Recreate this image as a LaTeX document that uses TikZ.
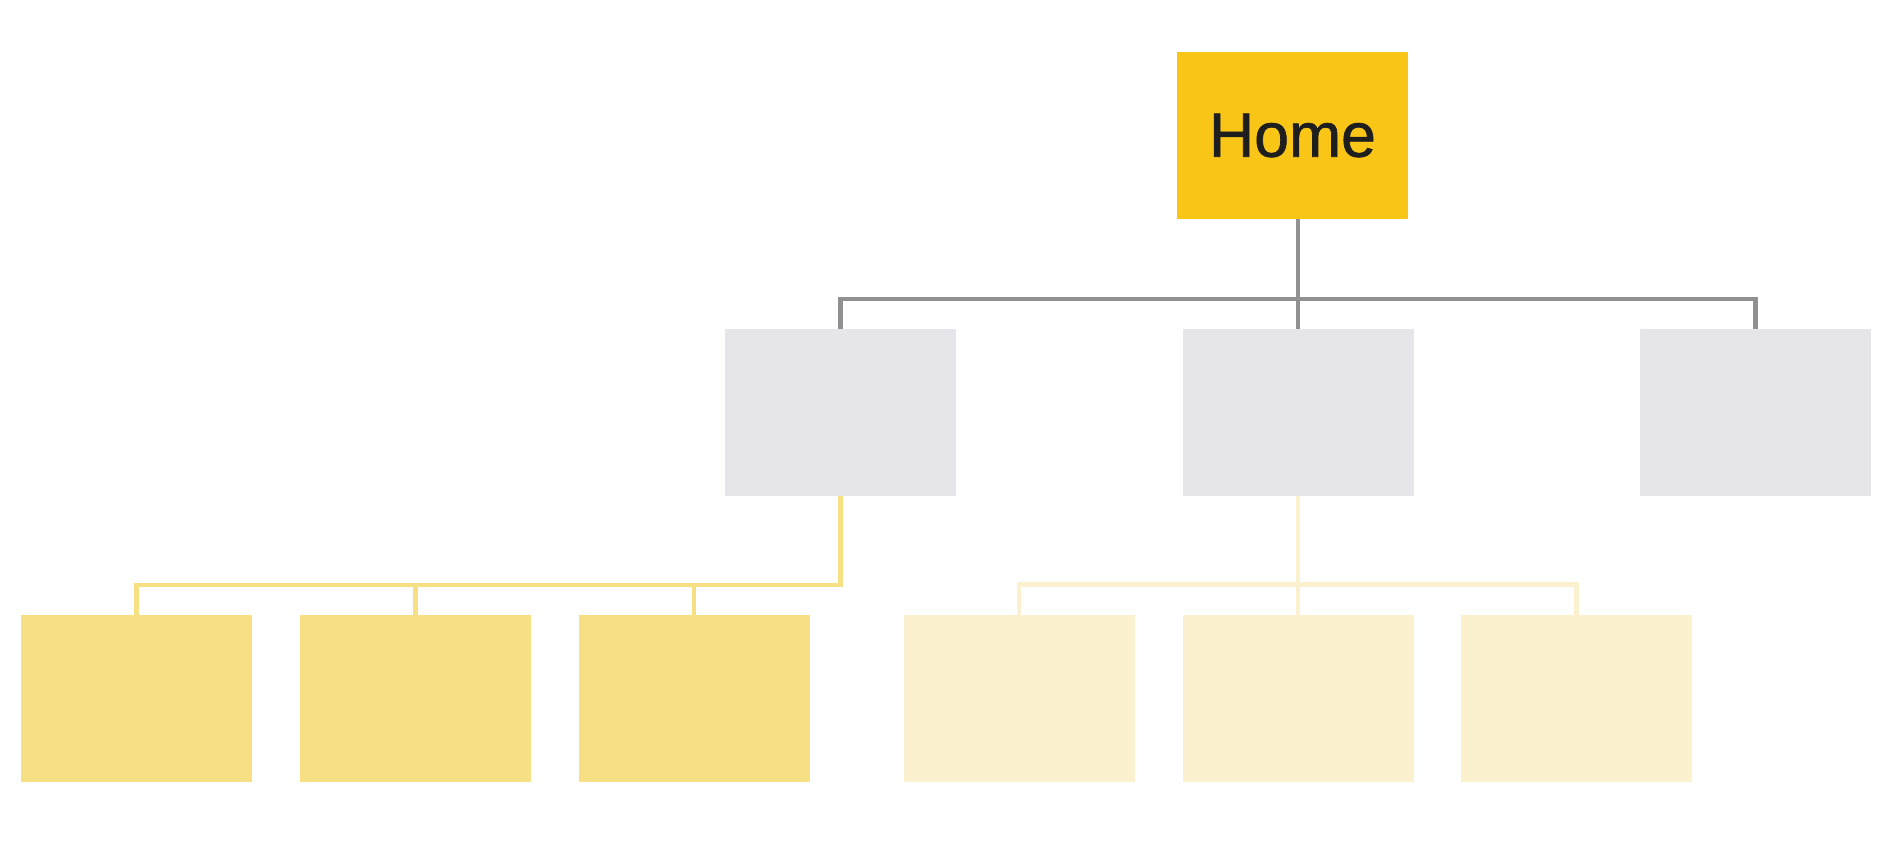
\documentclass[tikz,border=0pt]{standalone}
\usepackage{fontspec}
\setmainfont{Liberation Sans}
\newfontfamily\homefont{Liberation Sans}[FakeBold=1.1]
\usepackage{tikz}
\usetikzlibrary{positioning,calc}
\definecolor{HomeYellow}{RGB}{249,197,22}
\definecolor{PageGray}{RGB}{230,230,234}
\definecolor{SubYellow}{RGB}{247,224,132}
\definecolor{PaleYellow}{RGB}{251,241,207}
\definecolor{LinkGray}{RGB}{145,145,145}
\definecolor{InkDark}{RGB}{30,30,30}
\tikzset{
	page/.style={rectangle,inner sep=0pt,outer sep=0pt,minimum width=2.31cm,minimum height=1.67cm},
	home/.style={page,fill=HomeYellow,text=InkDark,font=\homefont\fontsize{17.8}{20}\selectfont},
	level/.style={page,fill=PageGray},
	sub/.style={page,fill=SubYellow},
	pale/.style={page,fill=PaleYellow},
	graylink/.style={draw=LinkGray,line width=1.15pt},
	sublink/.style={draw=SubYellow,line width=1.15pt},
	palelink/.style={draw=PaleYellow,line width=1.15pt},
}

\begin{document}
\begin{tikzpicture}
	\useasboundingbox[fill=white] (0,0) rectangle (18.93,-8.54);
	\node[home] (home) at (12.925,-1.355) {Home};
	\node[level] (g1) at (8.405,-4.125) {};
	\node[level] (g2) at (12.98,-4.125) {};
	\node[level] (g3) at (17.555,-4.125) {};
	\node[sub] (s1) at (1.365,-6.98) {};
	\node[sub] (s2) at (4.155,-6.98) {};
	\node[sub] (s3) at (6.94,-6.98) {};
	\node[pale] (p1) at (10.19,-6.98) {};
	\node[pale] (p2) at (12.98,-6.98) {};
	\node[pale] (p3) at (15.765,-6.98) {};
	% home to second level
	\draw[graylink] (home.south -| g2.north) -- (g2.north);
	\draw[graylink] (g1.north) -- ++(0,0.3) -| (g3.north);
	% first branch
	\draw[sublink] (g1.south) -- ++(0,-0.89) -| (s1.north);
	\draw[sublink] (s2.north) -- ++(0,0.3);
	\draw[sublink] (s3.north) -- ++(0,0.3);
	% second branch
	\draw[palelink] (g2.south) -- (p2.north);
	\draw[palelink] (p1.north) -- ++(0,0.3) -| (p3.north);
\end{tikzpicture}
\end{document}
